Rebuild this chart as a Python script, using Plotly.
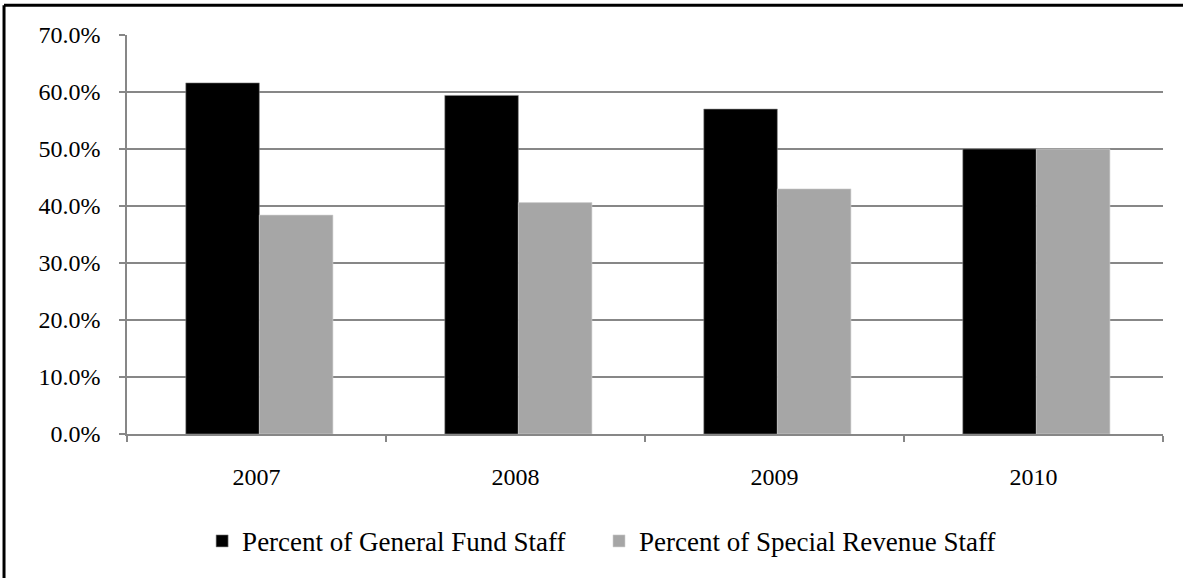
import plotly.graph_objects as go

years = ["2007", "2008", "2009", "2010"]
general_fund = [61.6, 59.4, 57.0, 50.0]
special_revenue = [38.4, 40.6, 43.0, 50.0]
y_ticks = [0, 10, 20, 30, 40, 50, 60, 70]
y_labels = [f"{v:.1f}%" for v in y_ticks]

font_family = "Liberation Serif, Times New Roman, serif"

# bar width and a small rightward shift of each pair, in category units
BAR_W = 0.284
SHIFT = 0.011

fig = go.Figure()
fig.add_trace(go.Bar(
    x=years, y=general_fund, name="Percent of General Fund Staff",
    width=BAR_W, offset=-BAR_W + SHIFT,
    marker=dict(color="#000000", line=dict(color="#8c8c8c", width=0.6)),
    legend="legend",
))
fig.add_trace(go.Bar(
    x=years, y=special_revenue, name="Percent of Special Revenue Staff",
    width=BAR_W, offset=SHIFT,
    marker=dict(color="#a6a6a6", line=dict(color="#d0d0d0", width=0.6)),
    legend="legend2",
))

# page frame (top and left edges)
fig.add_shape(type="line", xref="paper", yref="paper", x0=-0.1187, x1=1.2,
              y0=1.0746, y1=1.0746, line=dict(color="black", width=3))
fig.add_shape(type="line", xref="paper", yref="paper", x0=-0.1187, x1=-0.1187,
              y0=1.0746, y1=-0.5, line=dict(color="black", width=3))

legend_style = dict(orientation="h", xanchor="left", y=-0.269, yanchor="middle",
                    font=dict(size=27), itemwidth=30, bgcolor="rgba(0,0,0,0)")

fig.update_layout(
    width=1183, height=578,
    margin=dict(l=127, r=20, t=35, b=141),
    paper_bgcolor="white", plot_bgcolor="white",
    barmode="group",
    font=dict(family=font_family, size=24, color="black"),
    showlegend=True,
    legend=dict(x=0.0725, **legend_style),
    legend2=dict(x=0.4556, **legend_style),
    xaxis=dict(
        type="category", showgrid=False, showline=True, linecolor="#878787", linewidth=1.5,
        ticks="outside", tickson="boundaries", ticklen=6, tickcolor="#878787", tickwidth=1.5,
        tickfont=dict(size=24), zeroline=False, ticklabelstandoff=20,
    ),
    yaxis=dict(
        range=[0, 70], tickvals=y_ticks, ticktext=y_labels,
        showgrid=True, gridcolor="#878787", gridwidth=1.5,
        showline=True, linecolor="#878787", linewidth=1.5,
        ticks="outside", ticklen=6, tickcolor="#878787", tickwidth=1.5,
        tickfont=dict(size=24), zeroline=False, ticklabelstandoff=14,
    ),
)

fig.write_html("out.html")
